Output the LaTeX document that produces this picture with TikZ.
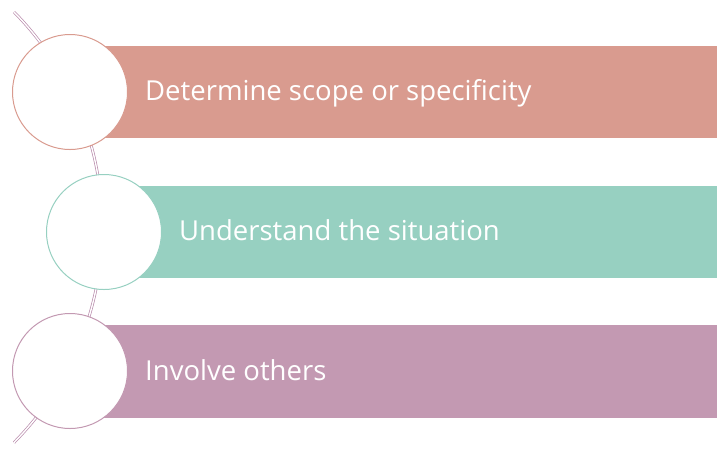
\documentclass[tikz,border=0pt]{standalone}
\usepackage{fontspec}
\setmainfont{Open Sans}
\definecolor{barA}{RGB}{217,155,143}
\definecolor{barB}{RGB}{151,208,193}
\definecolor{barC}{RGB}{195,153,178}
\definecolor{arcC}{RGB}{185,140,172}
\begin{document}
\begin{tikzpicture}[x=1pt,y=-1pt,
  ring/.style={circle, fill=white, line width=1pt, minimum size=115pt, inner sep=0pt},
  label/.style={anchor=base west, text=white, font=\fontsize{27.5}{30}\selectfont, inner sep=0pt},
  spine/.style={draw=arcC, line width=0.7pt, double=white, double distance=1.4pt}]
\useasboundingbox (0,0) rectangle (717,451);
% spine arc: center (-201.6,230), radius 306.6
\coordinate (arcTop) at (14,12);
\draw[spine] (arcTop) arc[start angle=135.4, end angle=224.6, radius=-306.6];
% bars
\fill[barA] (70,46) rectangle (717,138);
\fill[barB] (104,186) rectangle (717,278);
\fill[barC] (70,325) rectangle (717,418);
% circles
\node[ring, draw=barA] (c1) at (70,92) {};
\node[ring, draw=barB] (c2) at (104,232) {};
\node[ring, draw=barC] (c3) at (70,371) {};
% labels
\node[label] (t1) at (145,100) {Determine scope or specificity};
\node[label] (t2) at (179,240) {Understand the situation};
\node[label] (t3) at (145,380) {Involve others};
\end{tikzpicture}
\end{document}
